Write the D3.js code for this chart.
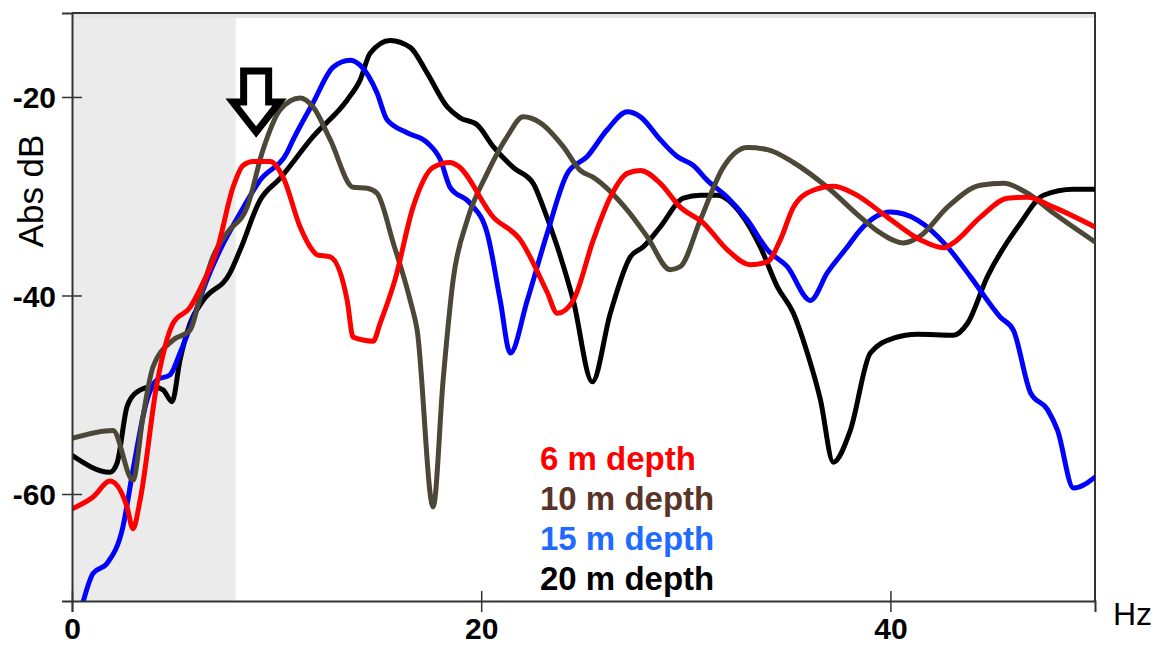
<!DOCTYPE html>
<html>
<head>
<meta charset="utf-8">
<script src="https://cdn.jsdelivr.net/npm/d3@7"></script>
<style>
  body { margin: 0; background: #fff; }
  text { font-family: "Liberation Sans", Arial, sans-serif; }
</style>
</head>
<body>
<svg width="1161" height="646"></svg>
<script>
// [Hz, dB]
const depth6 = [
  [0, -61.5], [1.03, -60.3], [1.86, -58.7], [2.69, -61.3], [2.98, -63.5], [3.33, -60.6],
  [4.16, -48.8], [4.94, -42.8], [5.77, -41.2], [6.41, -38.7], [7.09, -35.4], [7.87, -29.1],
  [8.36, -26.9], [8.85, -26.5], [9.68, -26.5], [10.32, -28.1], [11.15, -33.1], [11.64, -35.1],
  [11.98, -35.9], [12.62, -36.1], [13.45, -40.5], [13.74, -44.2], [14.72, -44.6], [15.06, -42.8],
  [15.79, -38.4], [16.67, -31.1], [17.65, -27.1], [18.48, -26.6], [18.83, -26.9], [20.59, -32.1],
  [21.91, -34.4], [23.23, -39.7], [23.72, -41.8], [24.5, -40.5], [25.48, -34.4], [26.31, -30.1],
  [27.14, -27.7], [27.78, -27.4], [28.75, -28.7], [29.73, -31.1], [30.86, -32.7], [32.03, -35.4],
  [33.15, -36.9], [33.99, -36.6], [34.62, -34.4], [35.26, -31.1], [36.23, -29.4], [37.21, -29.0],
  [38.19, -29.7], [39.85, -32.1], [41.47, -34.4], [42.59, -35.2], [43.08, -34.7], [44.4, -32.1],
  [45.72, -30.2], [46.7, -30.1], [47.97, -31.1], [50, -33.1]
];
const depth10 = [
  [0, -54.4], [2.0, -53.6], [2.98, -58.6], [3.47, -52.2], [3.96, -47.2], [4.94, -44.5],
  [5.77, -43.5], [6.26, -40.2], [6.89, -36.1], [7.58, -33.7], [8.56, -31.1], [9.34, -25.3],
  [10.17, -21.3], [11.15, -20.1], [11.78, -21.0], [12.62, -24.3], [13.74, -29.1], [14.43, -29.2],
  [14.91, -29.7], [15.7, -34.7], [16.53, -40.5], [16.87, -43.5], [17.65, -61.3], [18.14, -48.5],
  [18.63, -38.4], [19.32, -32.4], [20.29, -27.7], [21.27, -24.0], [22.05, -22.0], [22.89, -22.6],
  [24.01, -25.0], [24.84, -27.4], [25.48, -28.1], [27.14, -31.4], [28.12, -34.1], [29.24, -37.4],
  [29.73, -37.1], [30.71, -32.4], [31.83, -27.1], [33.01, -25.1], [33.99, -25.3], [35.26, -26.6],
  [36.92, -29.1], [38.53, -32.1], [39.51, -33.7], [40.64, -34.7], [41.47, -34.0], [42.79, -31.1],
  [44.4, -28.9], [45.53, -28.7], [46.7, -29.7], [47.97, -31.7], [50, -34.6]
];
const depth15 = [
  [0.54, -70.9], [1.03, -68.0], [1.71, -67.0], [2.49, -63.3], [2.98, -57.6], [3.67, -50.5],
  [4.16, -48.5], [4.79, -48.0], [5.28, -45.8], [5.77, -43.2], [6.6, -38.4], [7.24, -35.4],
  [8.22, -31.7], [9.19, -28.4], [10.51, -25.6], [10.81, -24.3], [11.78, -20.6], [12.76, -17.0],
  [13.59, -16.3], [14.08, -16.8], [14.91, -19.6], [15.4, -22.3], [16.38, -23.6], [17.36, -24.6],
  [18.0, -26.3], [18.48, -29.1], [19.46, -30.7], [20.29, -33.7], [20.93, -40.5], [21.42, -45.8],
  [22.25, -40.5], [23.23, -33.7], [24.21, -27.7], [25.18, -26.0], [26.16, -23.3], [27.14, -21.5],
  [27.78, -22.0], [28.75, -24.3], [29.58, -26.0], [30.37, -26.9], [31.05, -28.4], [32.03, -30.1],
  [33.01, -32.4], [33.99, -35.4], [34.96, -37.1], [36.09, -40.5], [36.92, -37.7], [37.9, -35.1],
  [38.53, -33.4], [40.0, -31.6], [41.32, -32.4], [42.79, -35.1], [43.91, -38.1], [45.38, -42.2],
  [46.01, -43.5], [46.85, -49.8], [47.68, -51.5], [48.17, -53.6], [48.95, -59.4], [50, -58.3]
];
const depth20 = [
  [0, -56.1], [1.86, -57.8], [2.2, -56.9], [2.69, -51.2], [3.18, -49.7], [3.96, -49.2],
  [4.45, -49.5], [4.89, -50.7], [5.28, -46.5], [5.77, -42.8], [6.41, -40.5], [7.73, -37.7],
  [8.22, -35.4], [9.19, -30.4], [10.17, -28.2], [11.78, -24.0], [13.45, -20.3], [14.08, -18.3],
  [14.57, -15.6], [15.55, -14.3], [16.53, -15.0], [17.36, -17.6], [18.34, -21.0], [18.97, -22.1],
  [19.8, -22.8], [20.59, -25.0], [21.56, -27.1], [22.54, -28.7], [23.03, -31.1], [23.72, -35.1],
  [24.5, -40.5], [25.43, -48.7], [26.31, -41.8], [27.29, -36.1], [27.92, -35.1], [28.75, -33.1],
  [29.88, -30.2], [30.71, -29.9], [31.54, -29.9], [32.67, -31.7], [33.64, -35.1], [34.47, -39.1],
  [35.26, -41.8], [35.94, -45.8], [36.58, -50.5], [37.21, -56.8], [38.04, -53.6], [39.02, -45.8],
  [40.15, -44.3], [41.32, -43.9], [43.08, -44.0], [43.77, -42.8], [44.74, -38.1], [46.36, -32.7],
  [47.48, -29.9], [48.95, -29.3], [50, -29.3]
];

const seriesNames = ["6 m depth", "10 m depth", "15 m depth", "20 m depth"];
const lineColors = ["#ff0000", "#4c4737", "#0000ff", "#000000"];
const labelColors = ["#ff0000", "#5a3428", "#1f6bff", "#000000"];
const xTicks = [0, 20, 40];
const yTicks = [-60, -40, -20];
const shadedBand = [0, 8];   // Hz
const arrowAt = 9;           // Hz

const svg = d3.select("svg");
const margin = { top: 13, right: 66, bottom: 45, left: 72 };
const width = 1161 - margin.left - margin.right;
const height = 646 - margin.top - margin.bottom;

const x = d3.scaleLinear().domain([0, 50]).range([0, width]);
const y = d3.scaleLinear().domain([-70.78, -11.54]).range([height, 0]);

const g = svg.append("g").attr("transform", `translate(${margin.left},${margin.top})`);

g.append("defs").append("clipPath").attr("id", "plot")
  .append("rect").attr("width", width).attr("height", height);

// shaded low frequency band
g.append("rect")
  .attr("x", x(shadedBand[0]))
  .attr("width", x(shadedBand[1]) - x(shadedBand[0]))
  .attr("y", 0).attr("height", height)
  .attr("fill", "#ebebeb");

// frame top / right with a soft shadow
g.append("line").attr("x1", 0).attr("x2", width).attr("y1", 3).attr("y2", 3)
  .attr("stroke", "#e4e4e4").attr("stroke-width", 4);
g.append("path")
  .attr("d", `M0,0H${width}V${height}`)
  .attr("fill", "none").attr("stroke", "#333").attr("stroke-width", 2);

const line = d3.line()
  .x(d => x(d[0]))
  .y(d => y(d[1]))
  .curve(d3.curveMonotoneX);

const all = [depth6, depth10, depth15, depth20];
const drawOrder = [3, 2, 1, 0];

g.append("g").attr("clip-path", "url(#plot)")
  .selectAll("path")
  .data(drawOrder)
  .join("path")
  .attr("d", i => line(all[i]))
  .attr("fill", "none")
  .attr("stroke", i => lineColors[i])
  .attr("stroke-width", 5)
  .attr("stroke-linejoin", "round")
  .attr("stroke-linecap", "round");

// axes
const xAxis = g.append("g")
  .attr("transform", `translate(0,${height})`)
  .call(d3.axisBottom(x).tickValues(xTicks).tickSize(11).tickPadding(6).tickFormat(d => d));
xAxis.select(".domain").attr("stroke", "#333").attr("stroke-width", 2);
xAxis.selectAll(".tick line").attr("stroke", "#333").attr("stroke-width", 1.5).attr("y1", -10);
xAxis.selectAll(".tick text")
  .attr("font-size", 30).attr("font-weight", "bold").attr("fill", "#000");

const yAxis = g.append("g")
  .call(d3.axisLeft(y).tickValues(yTicks).tickSize(10).tickPadding(6).tickFormat(d => String(d)));
yAxis.select(".domain").attr("stroke", "#333").attr("stroke-width", 2);
yAxis.selectAll(".tick line").attr("stroke", "#333").attr("stroke-width", 1.5).attr("x1", 10);
yAxis.selectAll(".tick text")
  .attr("font-size", 30).attr("font-weight", "bold").attr("fill", "#000")
  .attr("dy", "0.36em");

// axis titles
svg.append("text")
  .attr("x", 1113).attr("y", 625)
  .attr("font-size", 32).attr("fill", "#000")
  .text("Hz");

svg.append("text")
  .attr("transform", "translate(43,191) rotate(-90)")
  .attr("text-anchor", "middle")
  .attr("font-size", 35).attr("fill", "#000")
  .text("Abs dB");

// down arrow marking the band edge
const ax = x(arrowAt), ay = 58;
const arrowPts = [
  [-12.5, 0], [12.5, 0], [12.5, 31], [23.5, 31], [0, 61], [-23.5, 31], [-12.5, 31]
];
g.append("path")
  .attr("d", "M" + arrowPts.map(p => `${ax + p[0]},${ay + p[1]}`).join("L") + "Z")
  .attr("fill", "#fff")
  .attr("stroke", "#000")
  .attr("stroke-width", 7)
  .attr("stroke-linejoin", "miter");

// legend
svg.append("g")
  .selectAll("text")
  .data(seriesNames)
  .join("text")
  .attr("x", 540)
  .attr("y", (d, i) => 470 + i * 40)
  .attr("font-size", 33)
  .attr("font-weight", "bold")
  .attr("fill", (d, i) => labelColors[i])
  .text(d => d);
</script>
</body>
</html>
